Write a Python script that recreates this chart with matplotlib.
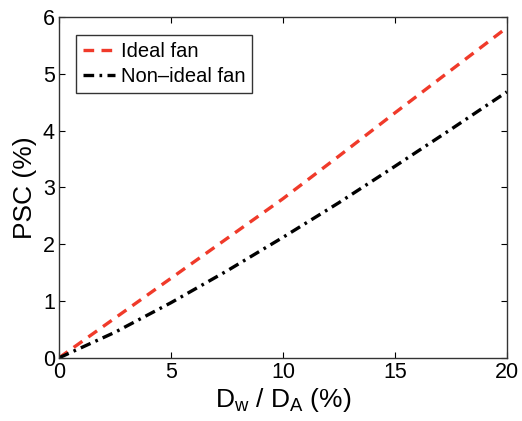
import numpy as np
import matplotlib
matplotlib.use('Agg')
import matplotlib.pyplot as plt

plt.rcParams['font.family'] = ['Liberation Sans', 'DejaVu Sans']
plt.rcParams['mathtext.default'] = 'regular'

# values
dw_da = [0, 2.5, 5, 7.5, 10, 12.5, 15, 17.5, 20]
psc_ideal = [0, 0.70, 1.40, 2.10, 2.80, 3.55, 4.31, 5.06, 5.81]
psc_nonideal = [0, 0.45, 0.97, 1.53, 2.12, 2.73, 3.37, 4.02, 4.68]

fig = plt.figure(figsize=(5.22, 4.21), dpi=100)
ax = fig.add_axes([0.113, 0.150, 0.858, 0.810])

ax.plot(dw_da, psc_ideal, color='#f03a2a', linestyle=(0, (3.2, 2.2)), linewidth=2.4, label='Ideal fan')
ax.plot(dw_da, psc_nonideal, color='black', linestyle=(0, (3.2, 1.6, 0.8, 1.6)), linewidth=2.4, label='Non–ideal fan')

ax.set_xlim(0, 20)
ax.set_ylim(0, 6)
ax.set_xticks([0, 5, 10, 15, 20])
ax.set_yticks([0, 1, 2, 3, 4, 5, 6])
ax.tick_params(direction='in', top=True, right=True, length=4, width=0.8, labelsize=15.5, pad=3)
for s in ax.spines.values():
    s.set_linewidth(1.0)
    s.set_color('#333333')

ax.set_xlabel('D$_w$ / D$_A$ (%)', fontsize=19, labelpad=2)
ax.set_ylabel('PSC (%)', fontsize=19, labelpad=4)

leg = ax.legend(loc='upper left', bbox_to_anchor=(0.037, 0.948), fontsize=14.5, frameon=True,
                fancybox=False, edgecolor='black', handlelength=1.6, handletextpad=0.3,
                borderpad=0.35, labelspacing=0.3, borderaxespad=0)
leg.get_frame().set_linewidth(1.0)

fig.savefig('out.png', dpi=100)
